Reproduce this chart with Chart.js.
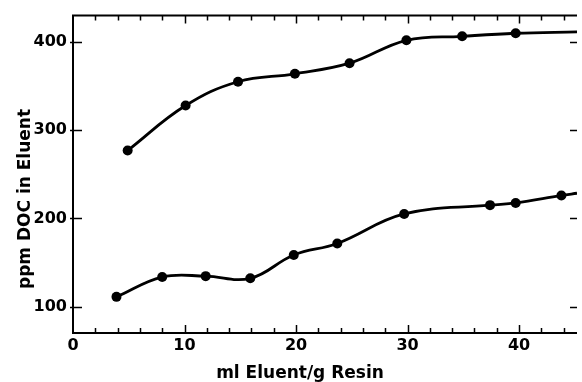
<!DOCTYPE html>
<html>
<head>
<meta charset="utf-8">
<script src="https://cdn.jsdelivr.net/npm/chart.js@4/dist/chart.umd.min.js"></script>
<style>
  html, body { margin: 0; padding: 0; background: #fff; }
  #wrap { width: 582px; height: 382px; position: relative; }
</style>
</head>
<body>
<div id="wrap"><canvas id="c"></canvas></div>
<script>
// ---- data ----
const upperX = [4.9, 10.1, 14.8, 19.9, 24.8, 29.9, 34.9, 39.7, 45.2];
const upperY = [277, 328, 355, 364, 376, 402, 406.5, 410, 411.5];
const upperMarkers = [1, 1, 1, 1, 1, 1, 1, 1, 0];

const lowerX = [3.9, 8.0, 11.9, 15.9, 19.8, 23.7, 29.7, 37.4, 39.7, 43.8, 45.2];
const lowerY = [111, 133.5, 134.5, 132, 158.5, 171.5, 205, 215, 217.5, 226, 228.5];
const lowerMarkers = [1, 1, 1, 1, 1, 1, 1, 1, 1, 1, 0];

const xTicks = [0, 10, 20, 30, 40];
const yTicks = [100, 200, 300, 400];
const xMinorStep = 2;
const xTitle = 'ml Eluent/g Resin';
const yTitle = 'ppm DOC in Eluent';

const FONT = '"DejaVu Sans", "Liberation Sans", Arial, sans-serif';

function toPoints(xs, ys) { return xs.map((x, i) => ({ x: x, y: ys[i] })); }

const framePlugin = {
  id: 'frame',
  afterDraw(chart) {
    const ctx = chart.ctx;
    const a = chart.chartArea;
    const xs = chart.scales.x, ys = chart.scales.y;
    ctx.save();
    ctx.strokeStyle = '#000';
    ctx.lineCap = 'butt';
    // frame: left, top, bottom
    ctx.lineWidth = 2;
    ctx.beginPath();
    ctx.moveTo(a.left, a.top); ctx.lineTo(a.left, a.bottom);
    ctx.moveTo(a.left - 1, a.top); ctx.lineTo(a.right, a.top);
    ctx.moveTo(a.left - 1, a.bottom); ctx.lineTo(a.right, a.bottom);
    ctx.stroke();
    // x ticks (inward, top and bottom)
    ctx.lineWidth = 1.5;
    ctx.beginPath();
    for (let v = xs.min; v <= xs.max + 1e-9; v += xMinorStep) {
      if (v === 0) continue;
      const px = Math.round(xs.getPixelForValue(v)) + 0.5;
      const major = xTicks.includes(v);
      const len = major ? 8 : 5;
      ctx.moveTo(px, a.bottom); ctx.lineTo(px, a.bottom - len);
      ctx.moveTo(px, a.top); ctx.lineTo(px, a.top + len);
    }
    // y ticks (left crossing, right inward)
    yTicks.forEach(v => {
      const py = Math.round(ys.getPixelForValue(v)) + 0.5;
      ctx.moveTo(a.left - 3, py); ctx.lineTo(a.left + 9, py);
      ctx.moveTo(a.right, py); ctx.lineTo(a.right - 7, py);
    });
    ctx.stroke();
    // axis titles
    ctx.fillStyle = '#000';
    ctx.font = 'bold 17px ' + FONT;
    ctx.textAlign = 'center';
    ctx.textBaseline = 'alphabetic';
    ctx.fillText(xTitle, 300, 378);
    ctx.translate(30, 199);
    ctx.rotate(-Math.PI / 2);
    ctx.fillText(yTitle, 0, 0);
    ctx.restore();
  }
};

const lineStyle = {
  borderColor: '#000',
  backgroundColor: '#000',
  borderWidth: 2.8,
  pointBorderWidth: 0,
  tension: 0.4,
  fill: false
};

new Chart(document.getElementById('c'), {
  type: 'line',
  data: {
    datasets: [
      Object.assign({
        label: 'upper',
        data: toPoints(upperX, upperY),
        pointRadius: upperMarkers.map(m => m ? 5 : 0)
      }, lineStyle),
      Object.assign({
        label: 'lower',
        data: toPoints(lowerX, lowerY),
        pointRadius: lowerMarkers.map(m => m ? 5 : 0)
      }, lineStyle)
    ]
  },
  options: {
    responsive: true,
    maintainAspectRatio: false,
    animation: false,
    events: [],
    layout: { padding: { top: 11, right: 0, bottom: 0, left: 0 } },
    plugins: { legend: { display: false }, tooltip: { enabled: false } },
    scales: {
      x: {
        type: 'linear',
        min: 0,
        max: 45.2,
        grid: { display: false, drawTicks: false },
        border: { display: false },
        afterBuildTicks: s => { s.ticks = xTicks.map(v => ({ value: v })); },
        afterFit: s => { s.height = 49; },
        ticks: {
          padding: 3,
          color: '#000',
          font: { family: FONT, size: 16, weight: 'bold' },
          maxRotation: 0,
          autoSkip: false
        }
      },
      y: {
        type: 'linear',
        min: 70,
        max: 430,
        grid: { display: false, drawTicks: false },
        border: { display: false },
        afterBuildTicks: s => { s.ticks = yTicks.map(v => ({ value: v })); },
        afterFit: s => { s.width = 73; },
        ticks: {
          padding: 6,
          color: '#000',
          font: { family: FONT, size: 16, weight: 'bold' },
          autoSkip: false
        }
      }
    }
  },
  plugins: [framePlugin]
});
</script>
</body>
</html>
